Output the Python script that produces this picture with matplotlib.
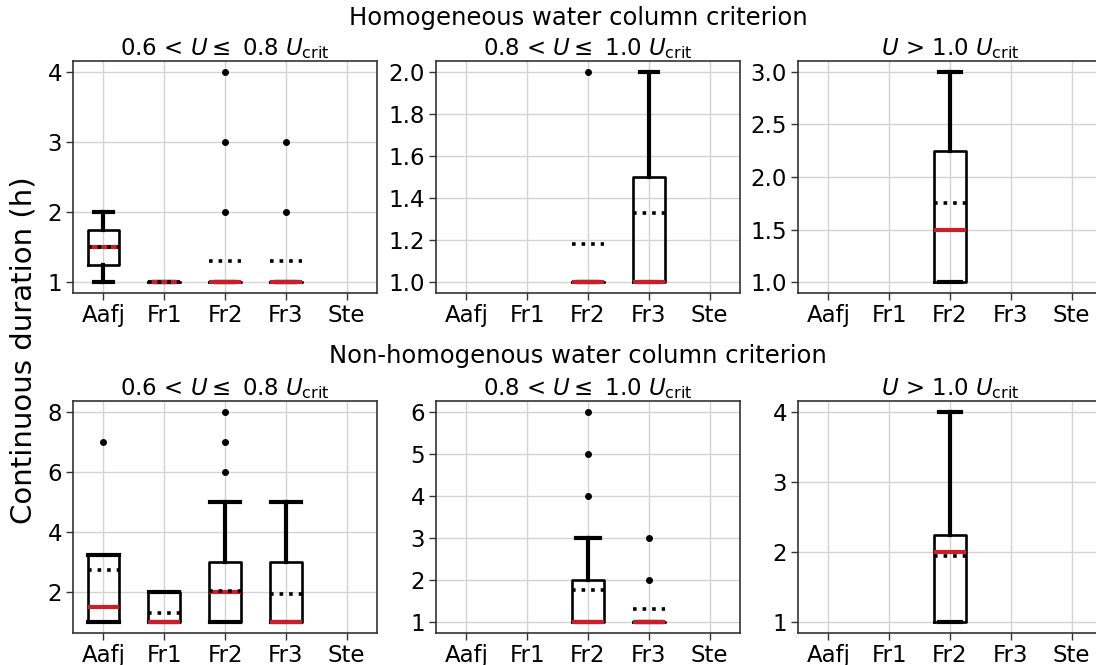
import numpy as np
import matplotlib.pyplot as plt

# stations on the x axis
cats = ['Aafj', 'Fr1', 'Fr2', 'Fr3', 'Ste']

# panel order: homogeneous (3 speed classes), then non-homogeneous (3 speed classes)
titles = [r'0.6 < $U \leq$ 0.8 $U_{\rm crit}$',
          r'0.8 < $U \leq$ 1.0 $U_{\rm crit}$',
          r'$U$ > 1.0 $U_{\rm crit}$'] * 2

# box statistics per panel, one entry per station (None = no events)
whislo = [
    [1.0, 1.0, 1.0, 1.0, None],
    [None, None, 1.0, 1.0, None],
    [None, None, 1.0, None, None],
    [1.0, 1.0, 1.0, 1.0, None],
    [None, None, 1.0, 1.0, None],
    [None, None, 1.0, None, None],
]
q1 = [
    [1.25, 1.0, 1.0, 1.0, None],
    [None, None, 1.0, 1.0, None],
    [None, None, 1.0, None, None],
    [1.0, 1.0, 1.0, 1.0, None],
    [None, None, 1.0, 1.0, None],
    [None, None, 1.0, None, None],
]
med = [
    [1.5, 1.0, 1.0, 1.0, None],
    [None, None, 1.0, 1.0, None],
    [None, None, 1.5, None, None],
    [1.5, 1.0, 2.0, 1.0, None],
    [None, None, 1.0, 1.0, None],
    [None, None, 2.0, None, None],
]
q3 = [
    [1.75, 1.0, 1.0, 1.0, None],
    [None, None, 1.0, 1.5, None],
    [None, None, 2.25, None, None],
    [3.25, 2.0, 3.0, 3.0, None],
    [None, None, 2.0, 1.0, None],
    [None, None, 2.25, None, None],
]
whishi = [
    [2.0, 1.0, 1.0, 1.0, None],
    [None, None, 1.0, 2.0, None],
    [None, None, 3.0, None, None],
    [3.25, 2.0, 5.0, 5.0, None],
    [None, None, 3.0, 1.0, None],
    [None, None, 4.0, None, None],
]
mean = [
    [1.5, 1.0, 1.31, 1.31, None],
    [None, None, 1.18, 1.33, None],
    [None, None, 1.75, None, None],
    [2.73, 1.33, 2.05, 1.96, None],
    [None, None, 1.78, 1.33, None],
    [None, None, 1.95, None, None],
]
fliers = [
    [[], [], [2, 3, 4], [2, 3], []],
    [[], [], [2], [], []],
    [[], [], [], [], []],
    [[7], [], [6, 7, 8], [], []],
    [[], [], [4, 5, 6], [2, 3], []],
    [[], [], [], [], []],
]
yticks = [
    [1, 2, 3, 4],
    [1.0, 1.2, 1.4, 1.6, 1.8, 2.0],
    [1.0, 1.5, 2.0, 2.5, 3.0],
    [2, 4, 6, 8],
    [1, 2, 3, 4, 5, 6],
    [1, 2, 3, 4],
]
ytick_fmt = ['%d', '%.1f', '%.1f', '%d', '%d', '%d']
capw = [0.3, 0.3, 0.37, 0.5, 0.4, 0.37]

W, H = 1096, 665
fig = plt.figure(figsize=(W / 100, H / 100), dpi=100)
plt.rcParams['font.family'] = 'DejaVu Sans'

lefts = [73, 436, 798]
tops = [61, 401]
aw, ah = 304, 232

for k in range(6):
    r, c = divmod(k, 3)
    ax = fig.add_axes([lefts[c] / W, 1 - (tops[r] + ah) / H, aw / W, ah / H])
    ax.set_axisbelow(True)
    ax.grid(True, color='#d3d3d3', lw=1.0)

    stats, pos = [], []
    for i in range(len(cats)):
        if med[k][i] is None:
            continue
        stats.append(dict(whislo=whislo[k][i], q1=q1[k][i], med=med[k][i],
                          q3=q3[k][i], whishi=whishi[k][i], mean=mean[k][i],
                          fliers=np.array(fliers[k][i], dtype=float)))
        pos.append(i)

    ax.bxp(stats, positions=pos, widths=0.52, capwidths=capw[k],
           showmeans=True, meanline=True,
           boxprops=dict(color='black', lw=1.9),
           whiskerprops=dict(color='black', lw=3.0),
           capprops=dict(color='black', lw=3.0),
           medianprops=dict(color='#c8202a', lw=3.0, zorder=3),
           meanprops=dict(color='black', ls=':', lw=2.6, zorder=4),
           flierprops=dict(marker='o', markerfacecolor='black',
                           markeredgecolor='black', markersize=4))

    ax.set_xlim(-0.5, 4.5)
    ax.set_xticks(range(len(cats)))
    ax.set_xticklabels(cats)
    lo = min(v for v in whislo[k] if v is not None)
    hi = max([v for v in whishi[k] if v is not None] +
             [f for fl in fliers[k] for f in fl])
    pad = 0.05 * (hi - lo)
    ax.set_ylim(lo - pad, hi + pad)
    ax.set_yticks(yticks[k])
    ax.set_yticklabels([ytick_fmt[k] % t for t in yticks[k]])
    ax.tick_params(labelsize=16.5, length=5, width=1, color='#333333', pad=3)
    for s in ax.spines.values():
        s.set_color('#333333')
        s.set_linewidth(1.2)
    ax.set_title(titles[k], fontsize=16.5, pad=4)

fig.text(578 / W, 1 - 18 / H, 'Homogeneous water column criterion',
         ha='center', va='center', fontsize=17.5)
fig.text(578 / W, 1 - 356 / H, 'Non-homogenous water column criterion',
         ha='center', va='center', fontsize=17.5)
fig.text(24 / W, 1 - 350 / H, 'Continuous duration (h)', rotation=90,
         ha='center', va='center', fontsize=21)

fig.savefig('out.png', dpi=100)
